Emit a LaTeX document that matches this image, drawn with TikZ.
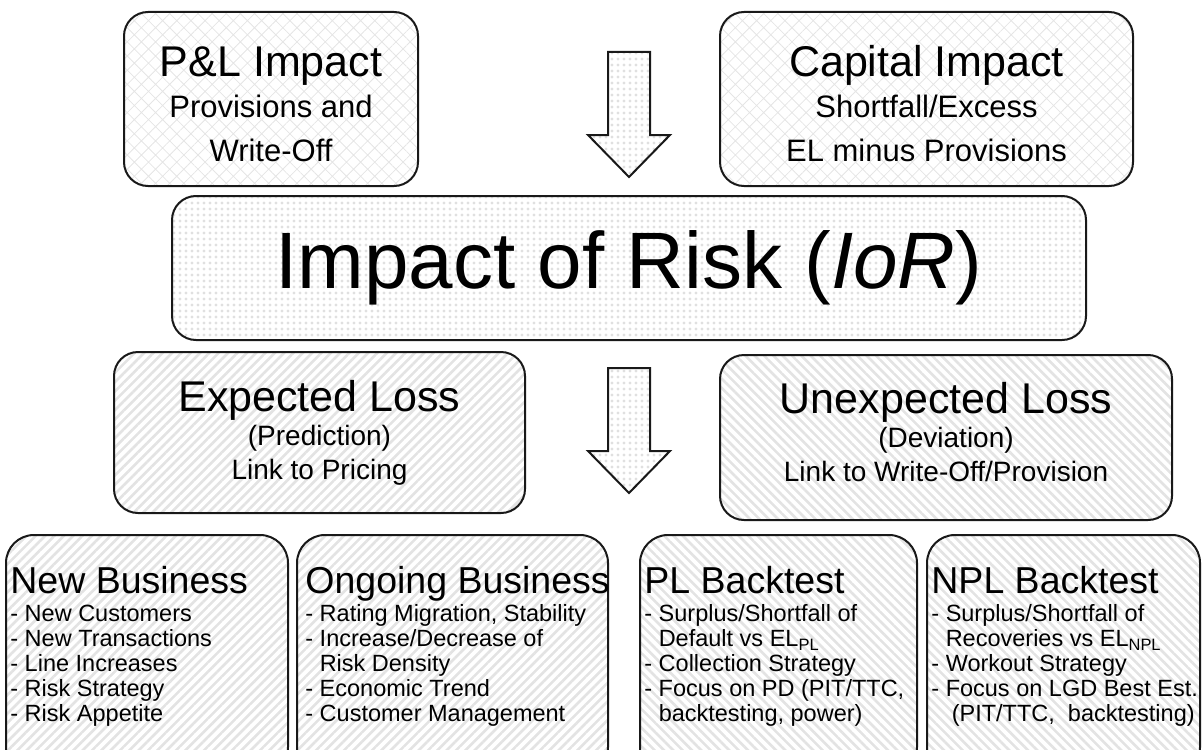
\documentclass[tikz,border=0pt]{standalone}
\usepackage{fontspec}
\setmainfont{Liberation Sans}
\usetikzlibrary{patterns.meta, positioning}

% font sizes (picture unit: 1px = 0.5pt)
\newcommand\hugefnt{\fontsize{40}{44}\selectfont}
\newcommand\headfnt{\fontsize{21.5}{24}\selectfont}
\newcommand\subfnt{\fontsize{15.5}{22}\selectfont}
\newcommand\midfnt{\fontsize{14}{17}\selectfont}
\newcommand\lowheadfnt{\fontsize{18.75}{21}\selectfont}
\newcommand\itemfnt{\fontsize{11.75}{12.5}\selectfont}
\newcommand\ind{\hphantom{-\ }}
\newcommand\topstrut{\rule{0pt}{20.5pt}}

\tikzset{
  roundbox/.style={draw=black!90, line width=1pt, rounded corners=12pt,
                   inner sep=0pt, align=center},
  hatchfill/.style={pattern={Hatch[angle=45,distance=5pt,line width=0.4pt]},
                    pattern color=black!10},
  dotfill/.style={pattern={Dots[distance=3pt,radius=0.8pt]}, pattern color=black!12},
  nefill/.style={pattern={Lines[angle=45,distance=3.3pt,line width=1.3pt]},
                 pattern color=black!11},
  nwfill/.style={pattern={Lines[angle=-45,distance=3.3pt,line width=1.3pt]},
                 pattern color=black!11},
  topbox/.style={roundbox, hatchfill, font=\subfnt},
  midbox/.style={roundbox, font=\midfnt},
  lowbox/.style={roundbox, rounded corners=14pt, minimum height=120pt},
  listtext/.style={anchor=north west, inner sep=0pt, align=left, font=\itemfnt},
  blockarr/.style={draw=black!90, line width=1pt, dotfill}
}

\newcommand\downblock[1]{%
  \draw[blockarr] (#1) ++(-21,0) -- ++(42,0) -- ++(0,83) -- ++(20,0)
    -- ++(-41,42) -- ++(-41,-42) -- ++(20,0) -- cycle;}

\begin{document}
\begin{tikzpicture}[x=0.5pt, y=-0.5pt]
  \useasboundingbox (0,0) rectangle (1202,749);
  \clip (0,0) rectangle (1202,749);

  % Top row
  \node[topbox, minimum width=147pt, minimum height=87pt] (plImpact) at (271,99)
    {{\headfnt\topstrut P\&L Impact}\\[-1.5pt]Provisions and\\Write-Off};
  \node[topbox, minimum width=206.5pt, minimum height=87pt] (capImpact) at (926.5,99)
    {{\headfnt\topstrut Capital Impact}\\[-1.5pt]Shortfall/Excess\\EL minus Provisions};
  \coordinate (arrTop) at (629,52);
  \downblock{arrTop}

  % Impact of Risk
  \node[roundbox, dotfill, font=\hugefnt, minimum width=457pt, minimum height=72pt]
    (ior) at (629,268) {Impact of Risk (\textit{IoR})};

  % Middle row
  \node[midbox, nefill, minimum width=205.5pt, minimum height=80.5pt] (expLoss) at (319.5,432.5)
    {{\headfnt Expected Loss}\\(Prediction)\\Link to Pricing};
  \node[midbox, nwfill, text depth=6pt, minimum width=226pt, minimum height=82.5pt]
    (unexpLoss) at (946,437.5)
    {{\headfnt Unexpected Loss}\\(Deviation)\\Link to Write-Off/Provision};
  \coordinate (arrLow) at (629,368);
  \downblock{arrLow}

  % Bottom row frames
  \node[lowbox, nefill, minimum width=141pt]   (newBiz)  at (147,655) {};
  \node[lowbox, nefill, minimum width=155.5pt] (ongBiz)  at (452.5,655) {};
  \node[lowbox, nwfill, minimum width=138.5pt] (plTest)  at (778.5,655) {};
  \node[lowbox, nwfill, minimum width=136.5pt] (nplTest) at (1063.5,655) {};

  % Bottom row texts
  \node[listtext] (newBizTxt) at (10,566)
    {{\lowheadfnt New Business}\\[1.5pt]- New Customers\\- New Transactions\\
     - Line Increases\\- Risk Strategy\\- Risk Appetite};
  \node[listtext] (ongBizTxt) at (305,566)
    {{\lowheadfnt Ongoing Business}\\[1.5pt]- Rating Migration, Stability\\
     - Increase/Decrease of\\\ind Risk Density\\- Economic Trend\\- Customer Management};
  \node[listtext] (plTestTxt) at (644,566)
    {{\lowheadfnt PL Backtest}\\[1.5pt]- Surplus/Shortfall of\\
     \ind Default vs EL\textsubscript{PL}\\- Collection Strategy\\
     - Focus on PD (PIT/TTC,\\\ind backtesting, power)};
  \node[listtext] (nplTestTxt) at (931,566)
    {{\lowheadfnt NPL Backtest}\\[1.5pt]- Surplus/Shortfall of\\
     \ind Recoveries vs EL\textsubscript{NPL}\\- Workout Strategy\\
     - Focus on LGD Best Est.\\\ind\hspace{3pt}(PIT/TTC,~~backtesting)};
\end{tikzpicture}
\end{document}
